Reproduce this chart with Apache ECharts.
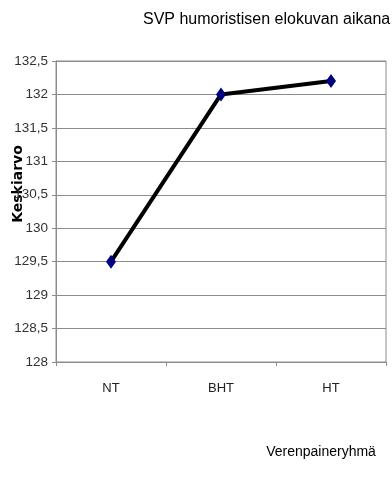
<!DOCTYPE html>
<html>
<head>
<meta charset="utf-8">
<script src="https://cdn.jsdelivr.net/npm/echarts@6/dist/echarts.min.js"></script>
<style>
  html, body { margin: 0; padding: 0; background: #fff; }
  #chart { width: 392px; height: 483px; }
</style>
</head>
<body>
<div id="chart"></div>
<script>
// Mean systolic blood pressure per blood-pressure group
const categories = ['NT', 'BHT', 'HT'];
const meanValues = [129.5, 132.0, 132.2];
const yMin = 128;
const yMax = 132.5;
const yStep = 0.5;

const chartTitle = 'SVP humoristisen elokuvan aikana';
const yAxisTitle = 'Keskiarvo';
const xAxisTitle = 'Verenpaineryhmä';

const font = '"Liberation Sans", Arial, sans-serif';
const gridGray = '#8c8c8c';

const chart = echarts.init(document.getElementById('chart'), null, { renderer: 'canvas' });

chart.setOption({
  backgroundColor: '#ffffff',
  animation: false,
  title: {
    text: chartTitle,
    left: 143,
    top: 12,
    padding: 0,
    textStyle: { fontFamily: font, fontSize: 16, fontWeight: 'normal', color: '#000' }
  },
  grid: {
    left: 56,
    right: 6,
    top: 61,
    bottom: 121,
    show: true,
    backgroundColor: '#fff',
    borderColor: gridGray,
    borderWidth: 1
  },
  xAxis: {
    type: 'category',
    data: categories,
    boundaryGap: true,
    axisLine: { show: true, lineStyle: { color: gridGray, width: 1 } },
    axisTick: { show: true, alignWithLabel: false, length: 4, lineStyle: { color: gridGray } },
    axisLabel: { fontFamily: font, fontSize: 13, color: '#222', margin: 20 },
    splitLine: { show: false }
  },
  yAxis: {
    type: 'value',
    min: yMin,
    max: yMax,
    interval: yStep,
    axisLine: { show: true, lineStyle: { color: gridGray, width: 1 } },
    axisTick: { show: true, length: 4, lineStyle: { color: gridGray } },
    axisLabel: {
      fontFamily: font,
      fontSize: 13.5,
      color: '#333',
      margin: 8,
      formatter: v => String(Math.round(v * 10) / 10).replace('.', ',')
    },
    splitLine: { show: true, lineStyle: { color: gridGray, width: 1 } }
  },
  graphic: [
    {
      type: 'text',
      x: 18,
      y: 184,
      rotation: Math.PI / 2,
      style: {
        text: yAxisTitle,
        font: 'bold 14px "DejaVu Sans", sans-serif',
        fill: '#000',
        align: 'center',
        verticalAlign: 'middle'
      }
    },
    {
      type: 'text',
      x: 321,
      y: 452,
      style: {
        text: xAxisTitle,
        font: '14px "Liberation Sans", Arial, sans-serif',
        fill: '#000',
        align: 'center',
        verticalAlign: 'middle'
      }
    }
  ],
  series: [
    {
      type: 'line',
      data: meanValues,
      lineStyle: { color: '#000', width: 4 },
      symbol: 'diamond',
      symbolSize: [10, 14],
      itemStyle: { color: '#000080', borderWidth: 0 },
      z: 3
    }
  ]
});
</script>
</body>
</html>
